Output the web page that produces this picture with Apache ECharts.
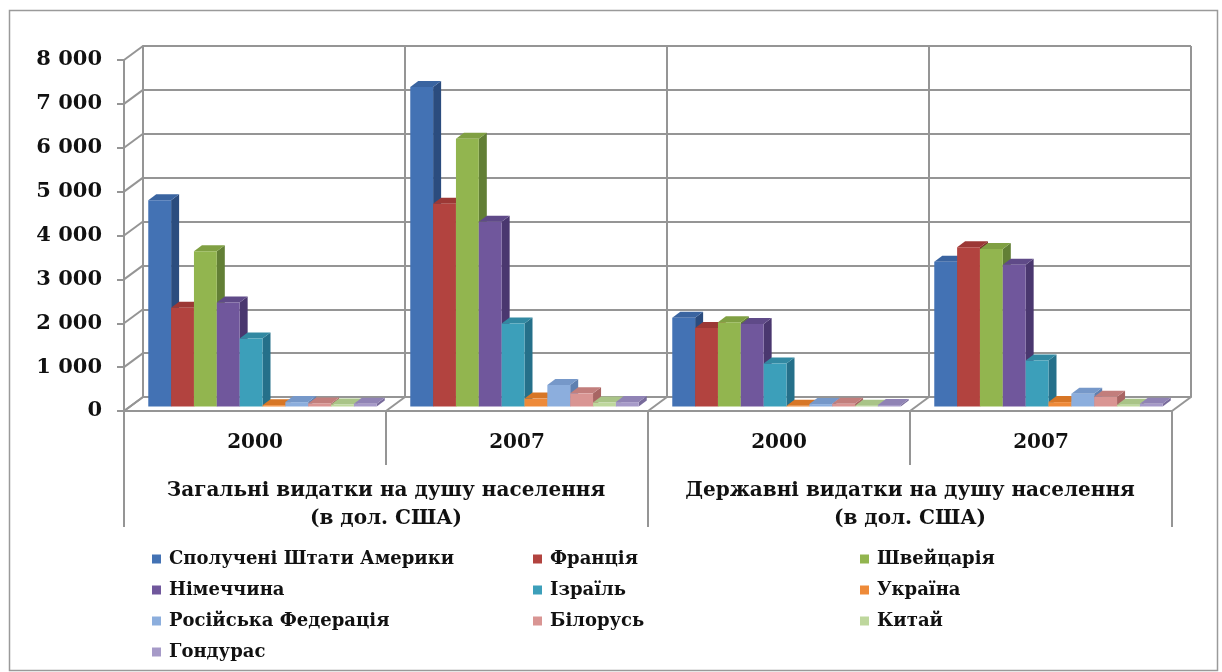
<!DOCTYPE html>
<html lang="uk">
<head>
<meta charset="utf-8">
<title>Видатки на охорону здоров'я на душу населення</title>
<script src="https://cdn.jsdelivr.net/npm/echarts@6/dist/echarts.min.js"></script>
<style>
  html, body { margin: 0; padding: 0; background: #fff; }
  #chart { width: 1222px; height: 672px; }
</style>
</head>
<body>
<div id="chart"></div>
<script>
// ---- data ----
const CATEGORIES = ['2000', '2007', '2000', '2007'];
const GROUP_LABELS = [
  'Загальні видатки на душу населення\n(в дол. США)',
  'Державні видатки на душу населення\n(в дол. США)'
];
const COUNTRIES = [
  'Сполучені Штати Америки', 'Франція', 'Швейцарія', 'Німеччина', 'Ізраїль',
  'Україна', 'Російська Федерація', 'Білорусь', 'Китай', 'Гондурас'
];
const Y_TICKS = [0, 1000, 2000, 3000, 4000, 5000, 6000, 7000, 8000];

const usa         = [4700, 7280, 2020, 3300];
const france      = [2250, 4620, 1790, 3630];
const switzerland = [3540, 6100, 1920, 3590];
const germany     = [2370, 4210, 1880, 3230];
const israel      = [1550, 1890,  980, 1050];
const ukraine     = [  30,  180,   15,  100];
const russia      = [ 100,  490,   55,  290];
const belarus     = [  70,  300,   60,  220];
const china       = [  45,   90,   17,   40];
const honduras    = [  65,  100,   35,   60];
const VALUES = [usa, france, switzerland, germany, israel, ukraine, russia, belarus, china, honduras];

// ---- styling ----
const FONT = 'DejaVu Serif';
const LINE = '#959595';
const FRONT = ['#4372B4', '#B2433F', '#92B54F', '#70579C', '#3C9FBA', '#EE8A39', '#8CAEDD', '#D99593', '#BED79D', '#A69AC8'];
const SIDE  = ['#2B4C7E', '#7E2C2A', '#627F35', '#4A376F', '#25708A', '#B55F1E', '#5F80B0', '#A86563', '#8FA86E', '#786B9B'];
const TOP   = ['#3A64A0', '#9C3835', '#80A043', '#5F4A88', '#3289A2', '#D77626', '#7698C9', '#C27E7C', '#A9C487', '#9083B5'];

// front plane of the plot and the depth shift to the back wall
const FRONT_GRID = { left: 124, right: 50, top: 60, bottom: 261 };
const DEPTH_X = 19, DEPTH_Y = -14;
// bars: share of the category taken by the cluster, offset of the front face, bar depth
const CLUSTER = 0.872;
const FACE_DX = 7.5, FACE_DY = -4.5;
const BAR_DX = 8, BAR_DY = -6;

function thousands(v) {
  return String(v).replace(/\B(?=(\d{3})+(?!\d))/g, ' ');
}

function barRenderer(s) {
  return function (params, api) {
    const i = api.value(0), v = api.value(1);
    const top = api.coord([i, v]);
    const base = api.coord([i, 0]);
    const catW = api.size([1, 0])[0];
    const w = catW * CLUSTER / COUNTRIES.length;
    const x0 = top[0] - catW * CLUSTER / 2 + s * w + FACE_DX;
    const yT = top[1] + FACE_DY, yB = base[1] + FACE_DY;
    return {
      type: 'group',
      children: [
        { type: 'polygon', shape: { points: [[x0 + w, yT], [x0 + w + BAR_DX, yT + BAR_DY], [x0 + w + BAR_DX, yB + BAR_DY], [x0 + w, yB]] }, style: { fill: SIDE[s] } },
        { type: 'polygon', shape: { points: [[x0, yT], [x0 + BAR_DX, yT + BAR_DY], [x0 + w + BAR_DX, yT + BAR_DY], [x0 + w, yT]] }, style: { fill: TOP[s] } },
        { type: 'rect', shape: { x: x0, y: yT, width: w, height: yB - yT }, style: { fill: FRONT[s] } }
      ]
    };
  };
}

// slanted edges of the side wall (one per value tick)
function sideWallRenderer(params, api) {
  const p = api.coord([0, api.value(1)]);
  const catW = api.size([1, 0])[0];
  const x = p[0] - catW / 2;
  return { type: 'line', shape: { x1: x, y1: p[1], x2: x + DEPTH_X, y2: p[1] + DEPTH_Y }, style: { stroke: LINE, lineWidth: 2 } };
}

// slanted edges of the floor (at every category boundary)
function floorRenderer(params, api) {
  const i = api.value(0);
  const p = api.coord([i, 0]);
  const catW = api.size([1, 0])[0];
  const xs = [p[0] - catW / 2];
  if (i === CATEGORIES.length - 1) xs.push(p[0] + catW / 2);
  return {
    type: 'group',
    children: xs.map(x => ({ type: 'line', shape: { x1: x, y1: p[1], x2: x + DEPTH_X, y2: p[1] + DEPTH_Y }, style: { stroke: LINE, lineWidth: 2 } }))
  };
}

const labelStyle = { fontFamily: FONT, fontWeight: 'bold', color: '#111' };
const legendBase = {
  orient: 'vertical', top: 545, itemWidth: 9, itemHeight: 9, itemGap: 13, icon: 'rect',
  textStyle: { fontFamily: FONT, fontWeight: 'bold', fontSize: 18, color: '#111', padding: [0, 0, 0, 3] }
};

const option = {
  animation: false,
  backgroundColor: '#fff',
  grid: [
    { left: FRONT_GRID.left, right: FRONT_GRID.right, top: FRONT_GRID.top, bottom: FRONT_GRID.bottom },
    { left: FRONT_GRID.left + DEPTH_X, right: FRONT_GRID.right - DEPTH_X, top: FRONT_GRID.top + DEPTH_Y, bottom: FRONT_GRID.bottom - DEPTH_Y }
  ],
  xAxis: [
    {
      type: 'category', gridIndex: 0, data: CATEGORIES,
      axisLine: { show: true, lineStyle: { color: LINE, width: 2 } },
      axisTick: { show: true, interval: 0, length: 54, lineStyle: { color: LINE, width: 2 } },
      axisLabel: Object.assign({ interval: 0, fontSize: 20, margin: 22 }, labelStyle),
      splitLine: { show: false }
    },
    {
      type: 'category', gridIndex: 0, data: GROUP_LABELS, position: 'bottom',
      axisLine: { show: false },
      axisTick: { show: true, interval: 0, length: 116, lineStyle: { color: LINE, width: 2 } },
      axisLabel: Object.assign({ interval: 0, fontSize: 20, margin: 66, lineHeight: 28 }, labelStyle),
      splitLine: { show: false }
    },
    {
      type: 'category', gridIndex: 1, data: CATEGORIES,
      axisLine: { show: true, lineStyle: { color: LINE, width: 2 } },
      axisTick: { show: false }, axisLabel: { show: false },
      splitLine: { show: true, interval: 0, lineStyle: { color: LINE, width: 2 } }
    }
  ],
  yAxis: [
    {
      type: 'value', gridIndex: 0, min: 0, max: 8000, interval: 1000,
      axisLine: { show: true, lineStyle: { color: LINE, width: 2 } },
      axisTick: { show: true, length: 7, lineStyle: { color: LINE, width: 2 } },
      axisLabel: Object.assign({ fontSize: 21, margin: 22, formatter: v => thousands(v) }, labelStyle),
      splitLine: { show: false }
    },
    {
      type: 'value', gridIndex: 1, min: 0, max: 8000, interval: 1000,
      axisLine: { show: true, lineStyle: { color: LINE, width: 2 } },
      axisTick: { show: false }, axisLabel: { show: false },
      splitLine: { show: true, lineStyle: { color: LINE, width: 2 } }
    }
  ],
  legend: [
    Object.assign({ left: 147, data: [COUNTRIES[0], COUNTRIES[3], COUNTRIES[6], COUNTRIES[9]] }, legendBase),
    Object.assign({ left: 528, data: [COUNTRIES[1], COUNTRIES[4], COUNTRIES[7]] }, legendBase),
    Object.assign({ left: 855, data: [COUNTRIES[2], COUNTRIES[5], COUNTRIES[8]] }, legendBase)
  ],
  graphic: [
    { type: 'rect', left: 7, top: 8, shape: { width: 1208, height: 660 }, style: { fill: 'none', stroke: '#9a9a9a', lineWidth: 1.5 }, silent: true }
  ],
  series: [
    {
      type: 'custom', name: 'side-wall', xAxisIndex: 0, yAxisIndex: 0, silent: true, clip: false, z: 1,
      data: Y_TICKS.map(v => [0, v]), renderItem: sideWallRenderer
    },
    {
      type: 'custom', name: 'floor', xAxisIndex: 0, yAxisIndex: 0, silent: true, clip: false, z: 1,
      data: CATEGORIES.map((c, i) => [i, 0]), renderItem: floorRenderer
    }
  ].concat(COUNTRIES.map((name, s) => ({
    type: 'custom', name: name, xAxisIndex: 0, yAxisIndex: 0, clip: false, z: 3,
    itemStyle: { color: FRONT[s] },
    data: VALUES[s].map((v, i) => [i, v]),
    renderItem: barRenderer(s)
  })))
};

const chart = echarts.init(document.getElementById('chart'));
chart.setOption(option);
</script>
</body>
</html>
